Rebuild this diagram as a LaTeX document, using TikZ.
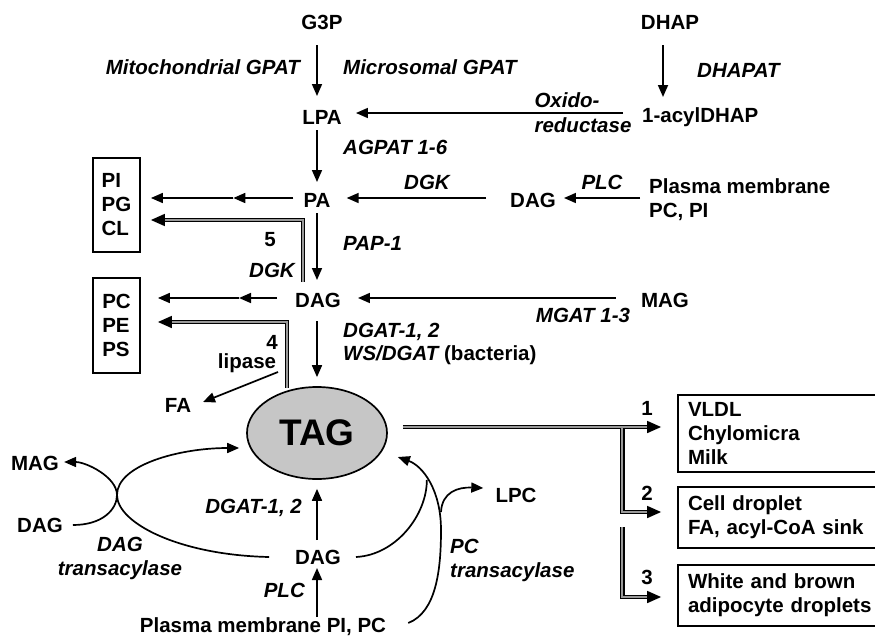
\documentclass[tikz,border=0pt]{standalone}
\usepackage{fontspec}
\setmainfont{Liberation Sans}
\usetikzlibrary{arrows.meta,shapes.geometric,calc}
\begin{document}
\begin{tikzpicture}[x=1pt,y=-1pt,
  txt/.style={font=\fontsize{20.5}{24}\selectfont\bfseries, inner sep=0pt, align=center},
  enz/.style={font=\fontsize{20.5}{24}\selectfont\bfseries\itshape, inner sep=0pt, align=center},
  arr/.style={line width=1.7pt, -{Triangle[length=12pt,width=10pt]}},
  darr/.style={line width=1.7pt, -{Triangle[length=14pt,width=12pt]}},
  ln/.style={line width=1.7pt},
  dbl/.style={line width=1.3pt, double=gray!80, double distance=2.2pt, line join=miter},
  boxl/.style={draw, line width=1.8pt, inner sep=0pt, align=left, font=\fontsize{20.5}{24}\selectfont\bfseries},
  boxr/.style={draw, line width=1.8pt, inner ysep=0pt, inner xsep=10pt, text width=184pt, align=left, font=\fontsize{20.5}{24}\selectfont\bfseries},
]
\useasboundingbox (0,0) rectangle (875,637);

% ---- top nodes
\node[txt] (g3p) at (322,22) {G3P};
\node[txt] (dhap) at (670,22) {DHAP};
\node[enz, anchor=east] (mitg) at (300,67) {Mitochondrial GPAT};
\node[enz, anchor=west] (micg) at (343,67) {Microsomal GPAT};
\node[enz, anchor=west] (dhapat) at (697,70) {DHAPAT};
\node[txt] (lpa) at (322,117) {LPA};
\node[txt, anchor=west] (acyl) at (642,117) {1-acylDHAP};
\node[enz] (oxido) at (567,100) {Oxido-};
\node[enz] (reduct) at (583,125) {reductase};
\node[enz, anchor=west] (agpat) at (343,147) {AGPAT 1-6};
\node[txt] (pa) at (317,200) {PA};
\node[enz] (dgk1) at (427,182) {DGK};
\node[txt] (dagR) at (533,200) {DAG};
\node[enz] (plc1) at (602,182) {PLC};
\node[txt, anchor=west, align=left] (pm1) at (649,200) {Plasma membrane\\PC, PI};
\node[boxl, minimum width=47pt, minimum height=94pt] (box1) at (116.5,205) {PI\\PG\\CL};
\node[txt] (five) at (270,240) {5};
\node[enz] (dgk2) at (272,270) {DGK};
\node[enz, anchor=west] (pap) at (343,243) {PAP-1};
\node[txt] (dagM) at (318,300) {DAG};
\node[txt] (magR) at (665,300) {MAG};
\node[enz] (mgat) at (583,315) {MGAT 1-3};
\node[boxl, minimum width=47pt, minimum height=95pt] (box2) at (116.5,325.5) {PC\\PE\\PS};
\node[txt] (four) at (272,342) {4};
\node[txt] (lipase) at (247,363) {lipase};
\node[txt] (fa) at (178,405) {FA};
\node[enz, anchor=west] (dgat) at (343,332) {DGAT-1, 2};
\node[txt, anchor=west] (ws) at (343,355) {{\itshape WS/DGAT} (bacteria)};

% ---- TAG
\node[ellipse, draw, fill=gray!45, line width=1.7pt, minimum width=140pt, minimum height=92pt, inner sep=0pt,
      font=\fontsize{37}{42}\selectfont\bfseries] (tag) at (317,433) {TAG};

% ---- right boxes (right side runs past the page edge)
\node[boxr, minimum height=77pt] (boxA) at (780,433.5) {VLDL\\Chylomicra\\Milk};
\node[boxr, minimum height=61pt] (boxB) at (780,517.5) {Cell droplet\\FA, acyl-CoA sink};
\node[boxr, minimum height=61pt] (boxC) at (780,595.5) {White and brown\\adipocyte droplets};
\node[txt] (one) at (647,408) {1};
\node[txt] (two) at (647,493) {2};
\node[txt] (three) at (647,577) {3};

% ---- bottom nodes
\node[txt] (magL) at (35,463) {MAG};
\node[txt] (dagL) at (40,525) {DAG};
\node[enz] (dagtr) at (120,558) {DAG\\transacylase};
\node[enz, anchor=east] (dgat2) at (302,508) {DGAT-1, 2};
\node[txt] (dagB) at (318,557) {DAG};
\node[enz, anchor=east] (plc2) at (305,590) {PLC};
\node[txt] (pmB) at (263,627) {Plasma membrane PI, PC};
\node[txt] (lpc) at (516,495) {LPC};
\node[enz, anchor=west, align=left] (pctr) at (450,560) {PC\\transacylase};

% ---- main column
\draw[arr] ($(pa|-g3p)+(0,23)$) -- ($(pa|-lpa)+(0,-21)$);
\draw[arr] ($(dhap)+(-7,23)$) -- ($(dhap|-acyl)+(-7,-20)$);
\draw[arr] ($(acyl.west)+(-19,-4)$) -- ($(lpa.east)+(14,-4)$);
\draw[arr] ($(pa|-lpa)+(0,13)$) -- ($(pa)+(0,-18)$);
\draw[arr] ($(dagR.west)+(-24,-2)$) -- ($(pa.east)+(16,-2)$);
\draw[arr] ($(pm1.west)+(-9,-2)$) -- ($(dagR.east)+(8,-2)$);
\draw[arr] ($(pa.west)+(-10,-2)$) -- ($(pa.west)+(-70,-2)$) coordinate (m1);
\draw[arr] (m1) -- ($(box1.east|-m1)+(10,0)$);
\draw[arr] ($(pa)+(0,13)$) -- ($(dagM)+(-1,-20)$);
\draw[arr] ($(magR.west)+(-25,-2)$) -- ($(dagM.east)+(17,-2)$);
\draw[arr] ($(dagM.west)+(-18,-2)$) -- ($(dagM.west)+(-56,-2)$) coordinate (m2);
\draw[arr] (m2) -- ($(box2.east|-m2)+(17,0)$);
\draw[arr] ($(dagM)+(-1,21)$) -- ($(tag.north)+(0,-9)$);

% double arrows 5 and 4
\draw[dbl] ($(pa)+(-14,82)$) -- ($(pa)+(-14,20)$) -- ($(box1.east)+(22,15)$) coordinate (d5);
\draw[darr] (d5) -- ($(box1.east)+(10,15)$);
\draw[dbl] ($(dagM)+(-31,88)$) -- ($(dagM)+(-31,22)$) -- ($(box2.east)+(31,-3.5)$) coordinate (d4);
\draw[darr] (d4) -- ($(box2.east)+(17,-3.5)$);

% lipase
\draw[arr] ($(lipase)+(31,9)$) -- ($(fa)+(25,-3)$);

% TAG outputs
\draw[dbl] ($(tag.east)+(15,-6)$) -- ($(boxA.west|-tag)+(-30,-6)$) coordinate (d1);
\draw[darr] (d1) -- ($(boxA.west|-tag)+(-16,-6)$);
\draw[dbl] ($(boxB.west)+(-55,-89.5)$) -- ($(boxB.west)+(-55,-5.5)$) -- ($(boxB.west)+(-30,-5.5)$) coordinate (d2);
\draw[darr] (d2) -- ($(boxB.west)+(-16,-5.5)$);
\draw[dbl] ($(boxC.west)+(-55,-68.5)$) -- ($(boxC.west)+(-55,1.5)$) -- ($(boxC.west)+(-30,1.5)$) coordinate (d3);
\draw[darr] (d3) -- ($(boxC.west)+(-16,1.5)$);

% ---- bottom
\draw[arr] ($(dagB)+(-1,-17)$) -- ($(tag.south)+(0,9)$);
\draw[arr] ($(dagB)+(-1,60)$) -- ($(dagB)+(-1,11)$);
\coordinate (xp) at (117,495);
\draw[arr] ($(dagL.east)+(10,0)$) .. controls +(30,0) and +(0,14) .. (xp)
   .. controls +(0,-18) and +(22,0) .. ($(magL.east)+(5,-1)$);
\draw[arr] ($(dagB.west)+(-26,0)$) .. controls +(-90,-2) and +(0,28) .. (xp)
   .. controls +(0,-30) and +(-60,0) .. ($(tag.west)+(-7,15)$);
\draw[ln] ($(dagB.east)+(15,0)$) .. controls +(40,-2) and +(0,35) .. ($(tag.east)+(39,47)$);
\coordinate (pcmax) at (441,530);
\draw[arr] ($(pmB.east)+(22,-4)$) .. controls +(28,-11) and +(0,40) .. (pcmax)
   .. controls +(0,-40) and +(25,9) .. ($(tag.east)+(10,24)$);
\draw[arr] (441,512) .. controls (442,492) and (458,487) .. ($(lpc.west)+(-12,-7)$);
\end{tikzpicture}
\end{document}
